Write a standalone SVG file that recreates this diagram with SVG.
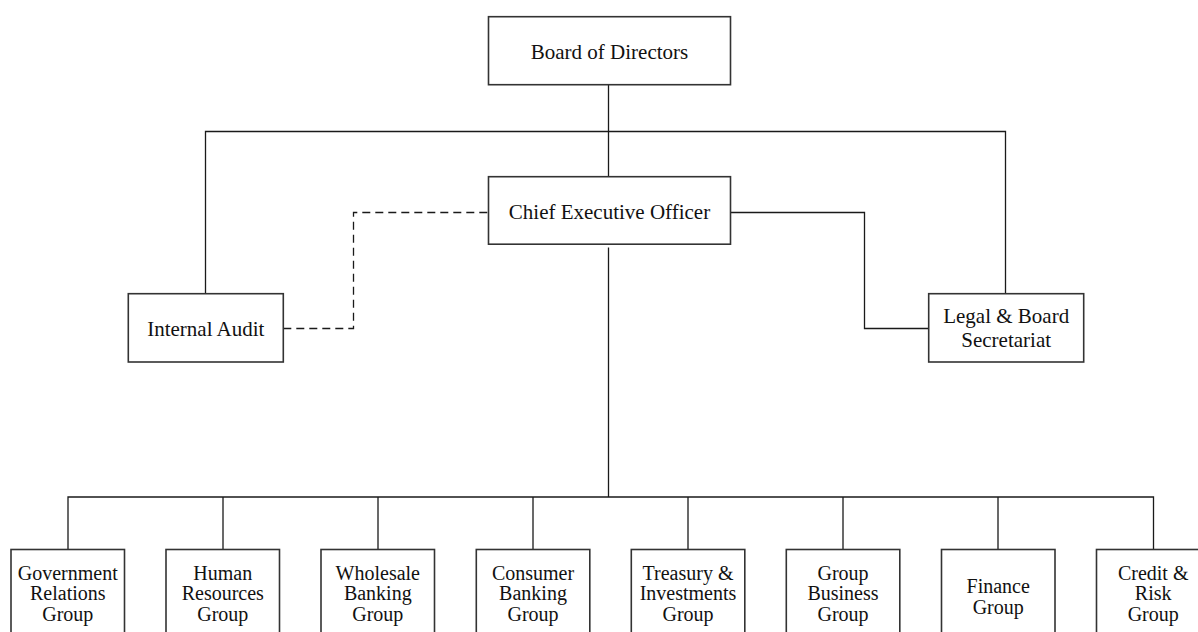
<svg xmlns="http://www.w3.org/2000/svg" width="1198" height="632" viewBox="0 0 1198 632">
<style>
.box{fill:#fff;stroke:#333;stroke-width:1.6}
.ln{fill:none;stroke:#1a1a1a;stroke-width:1.3}
.dash{stroke-dasharray:8,5}
.t{font-family:"Liberation Serif","Times New Roman",serif;font-size:21px;fill:#111;text-anchor:middle}
.s{font-family:"Liberation Serif","Times New Roman",serif;font-size:20px;fill:#111;text-anchor:middle}
</style>
<rect width="1198" height="632" fill="#fff"/>
<g id="connectors">
<path class="ln" d="M608.5,84.7V176.7"/>
<path class="ln" d="M205.5,293.7V131.5H1005.5V293.7"/>
<path class="ln dash" d="M283.3,328.5H353.5V212.5H488.5"/>
<path class="ln" d="M730.7,212.5H864.5V328.5H928.7"/>
<path class="ln" d="M608.5,247.5V497"/>
<path class="ln" d="M68,549.5V497H1153.5V549.5"/>
<path class="ln" d="M223,497V549.5M378,497V549.5M533,497V549.5M688,497V549.5M843,497V549.5M998,497V549.5"/>
</g>
<g id="board">
<rect class="box" x="488.5" y="16.7" width="242" height="68"/>
<text class="t" x="609.5" y="58.5">Board of Directors</text>
</g>
<g id="ceo">
<rect class="box" x="488.5" y="176.7" width="242" height="67.5"/>
<text class="t" x="609.5" y="219">Chief Executive Officer</text>
</g>
<g id="internal-audit">
<rect class="box" x="128.3" y="293.7" width="155" height="68.3"/>
<text class="t" x="205.8" y="336">Internal Audit</text>
</g>
<g id="legal">
<rect class="box" x="928.7" y="293.7" width="155" height="68.3"/>
<text class="t" x="1006.2" y="322.7">Legal &amp; Board</text>
<text class="t" x="1006.2" y="346.7">Secretariat</text>
</g>
<g id="government">
<rect class="box" x="11" y="549.5" width="113.5" height="100"/>
<text class="s" x="67.8" y="579.5">Government</text>
<text class="s" x="67.8" y="600.3">Relations</text>
<text class="s" x="67.8" y="621">Group</text>
</g>
<g id="hr">
<rect class="box" x="166" y="549.5" width="113.5" height="100"/>
<text class="s" x="222.8" y="579.5">Human</text>
<text class="s" x="222.8" y="600.3">Resources</text>
<text class="s" x="222.8" y="621">Group</text>
</g>
<g id="wholesale">
<rect class="box" x="321" y="549.5" width="113.5" height="100"/>
<text class="s" x="377.8" y="579.5">Wholesale</text>
<text class="s" x="377.8" y="600.3">Banking</text>
<text class="s" x="377.8" y="621">Group</text>
</g>
<g id="consumer">
<rect class="box" x="476.3" y="549.5" width="113.5" height="100"/>
<text class="s" x="533" y="579.5">Consumer</text>
<text class="s" x="533" y="600.3">Banking</text>
<text class="s" x="533" y="621">Group</text>
</g>
<g id="treasury">
<rect class="box" x="631.3" y="549.5" width="113.5" height="100"/>
<text class="s" x="688" y="579.5">Treasury &amp;</text>
<text class="s" x="688" y="600.3">Investments</text>
<text class="s" x="688" y="621">Group</text>
</g>
<g id="group-business">
<rect class="box" x="786.3" y="549.5" width="113.5" height="100"/>
<text class="s" x="843" y="579.5">Group</text>
<text class="s" x="843" y="600.3">Business</text>
<text class="s" x="843" y="621">Group</text>
</g>
<g id="finance">
<rect class="box" x="941.5" y="549.5" width="113.5" height="100"/>
<text class="s" x="998.2" y="593">Finance</text>
<text class="s" x="998.2" y="614">Group</text>
</g>
<g id="credit-risk">
<rect class="box" x="1096.5" y="549.5" width="113.5" height="100"/>
<text class="s" x="1153.2" y="579.5">Credit &amp;</text>
<text class="s" x="1153.2" y="600.3">Risk</text>
<text class="s" x="1153.2" y="621">Group</text>
</g>
</svg>
